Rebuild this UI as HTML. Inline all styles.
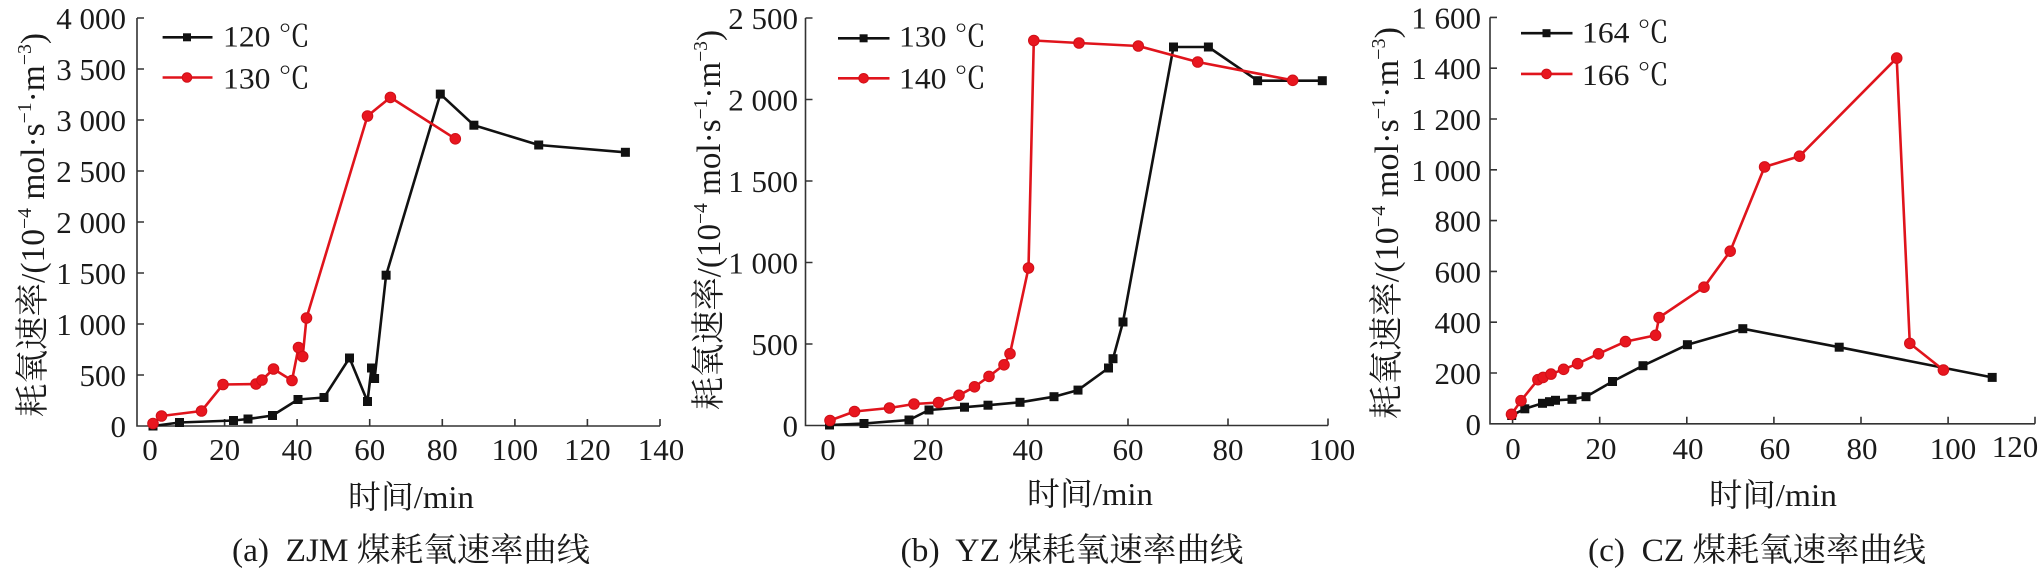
<!DOCTYPE html>
<html><head><meta charset="utf-8">
<style>
html,body{margin:0;padding:0;background:#fff;}
svg{display:block;}
text{font-family:"Liberation Serif","Noto Serif CJK SC",serif;fill:#1a1a1a;}
.ax{stroke:#333;stroke-width:1.6;fill:none;}
.bl{stroke:#111;stroke-width:2.6;fill:none;stroke-linejoin:round;}
.rd{stroke:#e0141c;stroke-width:2.6;fill:none;stroke-linejoin:round;}
.sq{fill:#111;}
.ci{fill:#e8161f;stroke:#d01018;stroke-width:1;}
.tk{font-size:31px;}
</style></head>
<body>
<svg width="2041" height="579" viewBox="0 0 2041 579" xmlns="http://www.w3.org/2000/svg">
<rect width="2041" height="579" fill="#fff"/>

<!-- ================= Panel (a) ================= -->
<g>
<path class="ax" d="M137,18 V426 H660"/>
<path class="ax" d="M137,18 h7 M137,69 h7 M137,120 h7 M137,171 h7 M137,222 h7 M137,273 h7 M137,324 h7 M137,375 h7"/>
<path class="ax" d="M152,426 v-7 M224.6,426 v-7 M297.1,426 v-7 M369.7,426 v-7 M442.3,426 v-7 M514.9,426 v-7 M587.4,426 v-7 M660,426 v-7"/>
<g class="tk" text-anchor="end">
<text x="126" y="29">4 000</text>
<text x="126" y="80">3 500</text>
<text x="126" y="131">3 000</text>
<text x="126" y="182">2 500</text>
<text x="126" y="233">2 000</text>
<text x="126" y="284">1 500</text>
<text x="126" y="335">1 000</text>
<text x="126" y="386">500</text>
<text x="126" y="437">0</text>
</g>
<g class="tk" text-anchor="middle">
<text x="150" y="460">0</text>
<text x="224.6" y="460">20</text>
<text x="297.1" y="460">40</text>
<text x="369.7" y="460">60</text>
<text x="442.3" y="460">80</text>
<text x="514.9" y="460">100</text>
<text x="587.4" y="460">120</text>
<text x="661" y="460">140</text>
</g>
<text x="411" y="508" text-anchor="middle" font-size="32" textLength="126" lengthAdjust="spacingAndGlyphs">时间/min</text>
<text transform="translate(44,225) rotate(-90)" text-anchor="middle" font-size="34" textLength="384" lengthAdjust="spacingAndGlyphs">耗氧速率/(10<tspan dy="-13" font-size="20">−4</tspan><tspan dy="13"> mol·s</tspan><tspan dy="-13" font-size="20">−1</tspan><tspan dy="13">·m</tspan><tspan dy="-13" font-size="20">−3</tspan><tspan dy="13">)</tspan></text>
<text x="411" y="561" text-anchor="middle" font-size="33" textLength="358" lengthAdjust="spacingAndGlyphs" style="white-space:pre">(a)  ZJM 煤耗氧速率曲线</text>

<!-- legend -->
<path class="bl" d="M162.6,37.3 H212.5"/>
<rect class="sq" x="183" y="33.3" width="8" height="8"/>
<text x="223" y="46.5" font-size="30" textLength="87" lengthAdjust="spacingAndGlyphs">120 ℃</text>
<path class="rd" d="M162.6,77.5 H212.5"/>
<circle class="ci" cx="187" cy="77.5" r="4.8"/>
<text x="223" y="88.5" font-size="30" textLength="87" lengthAdjust="spacingAndGlyphs">130 ℃</text>

<!-- black 120 -->
<polyline class="bl" points="153,426 179.5,422.5 233.5,420.5 248,419 272.5,415.5 298,399.5 324,397.5 349.5,358 367.5,401.5 371.5,368 374.6,378.5 386.1,275.2 440.3,94.1 473.9,125.2 538.7,145.0 625.4,152.3"/>
<g class="sq">
<rect x="148.5" y="421.5" width="9" height="9"/>
<rect x="175" y="418" width="9" height="9"/>
<rect x="229" y="416" width="9" height="9"/>
<rect x="243.5" y="414.5" width="9" height="9"/>
<rect x="268" y="411" width="9" height="9"/>
<rect x="293.5" y="395" width="9" height="9"/>
<rect x="319.5" y="393" width="9" height="9"/>
<rect x="345" y="353.5" width="9" height="9"/>
<rect x="363" y="397" width="9" height="9"/>
<rect x="367" y="363.5" width="9" height="9"/>
<rect x="370.1" y="374" width="9" height="9"/>
<rect x="381.6" y="270.7" width="9" height="9"/>
<rect x="435.8" y="89.6" width="9" height="9"/>
<rect x="469.4" y="120.7" width="9" height="9"/>
<rect x="534.2" y="140.5" width="9" height="9"/>
<rect x="620.9" y="147.8" width="9" height="9"/>
</g>
<!-- red 130 -->
<polyline class="rd" points="153,423.5 161.5,416 201.5,411 223,384.5 256,384 262,380 273.5,369 292,380.5 298.5,347.5 302.7,356.5 306.5,318 367.5,116.0 390.4,97.4 455.3,138.8"/>
<g class="ci">
<circle cx="153" cy="423.5" r="5.3"/>
<circle cx="161.5" cy="416" r="5.3"/>
<circle cx="201.5" cy="411" r="5.3"/>
<circle cx="223" cy="384.5" r="5.3"/>
<circle cx="256" cy="384" r="5.3"/>
<circle cx="262" cy="380" r="5.3"/>
<circle cx="273.5" cy="369" r="5.3"/>
<circle cx="292" cy="380.5" r="5.3"/>
<circle cx="298.5" cy="347.5" r="5.3"/>
<circle cx="302.7" cy="356.5" r="5.3"/>
<circle cx="306.5" cy="318" r="5.3"/>
<circle cx="367.5" cy="116" r="5.3"/>
<circle cx="390.4" cy="97.4" r="5.3"/>
<circle cx="455.3" cy="138.8" r="5.3"/>
</g>
</g>

<!-- ================= Panel (b) ================= -->
<g>
<path class="ax" d="M805.5,18 V425.5 H1328"/>
<path class="ax" d="M805.5,18 h7 M805.5,99.5 h7 M805.5,181 h7 M805.5,262.5 h7 M805.5,344 h7"/>
<path class="ax" d="M828,425.5 v-7 M928,425.5 v-7 M1028,425.5 v-7 M1128,425.5 v-7 M1228,425.5 v-7 M1328,425.5 v-7"/>
<g class="tk" text-anchor="end">
<text x="798" y="29">2 500</text>
<text x="798" y="110.5">2 000</text>
<text x="798" y="192">1 500</text>
<text x="798" y="273.5">1 000</text>
<text x="798" y="355">500</text>
<text x="798" y="436.5">0</text>
</g>
<g class="tk" text-anchor="middle">
<text x="828" y="460">0</text>
<text x="928" y="460">20</text>
<text x="1028" y="460">40</text>
<text x="1128" y="460">60</text>
<text x="1228" y="460">80</text>
<text x="1332" y="460">100</text>
</g>
<text x="1090" y="505" text-anchor="middle" font-size="32" textLength="126" lengthAdjust="spacingAndGlyphs">时间/min</text>
<text transform="translate(720,220) rotate(-90)" text-anchor="middle" font-size="34" textLength="380" lengthAdjust="spacingAndGlyphs">耗氧速率/(10<tspan dy="-13" font-size="20">−4</tspan><tspan dy="13"> mol·s</tspan><tspan dy="-13" font-size="20">−1</tspan><tspan dy="13">·m</tspan><tspan dy="-13" font-size="20">−3</tspan><tspan dy="13">)</tspan></text>
<text x="1072" y="561" text-anchor="middle" font-size="33" textLength="343" lengthAdjust="spacingAndGlyphs" style="white-space:pre">(b)  YZ 煤耗氧速率曲线</text>

<path class="bl" d="M838,38.3 H889.5"/>
<rect class="sq" x="859.6" y="34.3" width="8" height="8"/>
<text x="899" y="46.7" font-size="30" textLength="87" lengthAdjust="spacingAndGlyphs">130 ℃</text>
<path class="rd" d="M838,78.3 H889.5"/>
<circle class="ci" cx="863.6" cy="78.3" r="4.8"/>
<text x="899" y="88.3" font-size="30" textLength="87" lengthAdjust="spacingAndGlyphs">140 ℃</text>

<polyline class="bl" points="829.5,425 864,423.5 909,420 929,410 964.5,407.2 988,405.2 1020,402.3 1054,396.7 1078,390.1 1108.5,368.0 1113,358.7 1123,322.0 1173.5,47 1208.4,47 1257.6,80.7 1322.3,80.7"/>
<g class="sq">
<rect x="825" y="420.5" width="9" height="9"/>
<rect x="859.5" y="419" width="9" height="9"/>
<rect x="904.5" y="415.5" width="9" height="9"/>
<rect x="924.5" y="405.5" width="9" height="9"/>
<rect x="960" y="402.7" width="9" height="9"/>
<rect x="983.5" y="400.7" width="9" height="9"/>
<rect x="1015.5" y="397.8" width="9" height="9"/>
<rect x="1049.5" y="392.2" width="9" height="9"/>
<rect x="1073.5" y="385.6" width="9" height="9"/>
<rect x="1104" y="363.5" width="9" height="9"/>
<rect x="1108.5" y="354.2" width="9" height="9"/>
<rect x="1118.5" y="317.5" width="9" height="9"/>
<rect x="1169" y="42.5" width="9" height="9"/>
<rect x="1203.9" y="42.5" width="9" height="9"/>
<rect x="1253.1" y="76.2" width="9" height="9"/>
<rect x="1317.8" y="76.2" width="9" height="9"/>
</g>
<polyline class="rd" points="830,420.5 854.5,411.5 889.5,408 914,404 938.5,402.5 959,395.3 974.5,386.8 989,376.4 1004,364.8 1010,353.7 1028.5,268.0 1033.8,40.5 1079,43 1138.3,46 1197.7,62 1292.7,80.3"/>
<g class="ci">
<circle cx="830" cy="420.5" r="5.3"/>
<circle cx="854.5" cy="411.5" r="5.3"/>
<circle cx="889.5" cy="408" r="5.3"/>
<circle cx="914" cy="404" r="5.3"/>
<circle cx="938.5" cy="402.5" r="5.3"/>
<circle cx="959" cy="395.3" r="5.3"/>
<circle cx="974.5" cy="386.8" r="5.3"/>
<circle cx="989" cy="376.4" r="5.3"/>
<circle cx="1004" cy="364.8" r="5.3"/>
<circle cx="1010" cy="353.7" r="5.3"/>
<circle cx="1028.5" cy="268" r="5.3"/>
<circle cx="1033.8" cy="40.5" r="5.3"/>
<circle cx="1079" cy="43" r="5.3"/>
<circle cx="1138.3" cy="46" r="5.3"/>
<circle cx="1197.7" cy="62" r="5.3"/>
<circle cx="1292.7" cy="80.3" r="5.3"/>
</g>
</g>

<!-- ================= Panel (c) ================= -->
<g>
<path class="ax" d="M1490,17.4 V423.8 H2035"/>
<path class="ax" d="M1490,17.4 h7 M1490,68.2 h7 M1490,119 h7 M1490,169.8 h7 M1490,220.6 h7 M1490,271.4 h7 M1490,322.2 h7 M1490,373 h7"/>
<path class="ax" d="M1512.6,423.8 v-7 M1599.7,423.8 v-7 M1686.8,423.8 v-7 M1773.9,423.8 v-7 M1861,423.8 v-7 M1948.1,423.8 v-7 M2035,423.8 v-7"/>
<g class="tk" text-anchor="end">
<text x="1481" y="28.4">1 600</text>
<text x="1481" y="79.2">1 400</text>
<text x="1481" y="130">1 200</text>
<text x="1481" y="180.8">1 000</text>
<text x="1481" y="231.6">800</text>
<text x="1481" y="282.4">600</text>
<text x="1481" y="333.2">400</text>
<text x="1481" y="384">200</text>
<text x="1481" y="434.8">0</text>
</g>
<g class="tk" text-anchor="middle">
<text x="1513" y="459">0</text>
<text x="1601" y="459">20</text>
<text x="1688" y="459">40</text>
<text x="1775" y="459">60</text>
<text x="1862" y="459">80</text>
<text x="1953" y="459">100</text>
<text x="2015" y="457">120</text>
</g>
<text x="1773" y="506" text-anchor="middle" font-size="32" textLength="128" lengthAdjust="spacingAndGlyphs">时间/min</text>
<text transform="translate(1398,223) rotate(-90)" text-anchor="middle" font-size="34" textLength="392" lengthAdjust="spacingAndGlyphs">耗氧速率/(10<tspan dy="-13" font-size="20">−4</tspan><tspan dy="13"> mol·s</tspan><tspan dy="-13" font-size="20">−1</tspan><tspan dy="13">·m</tspan><tspan dy="-13" font-size="20">−3</tspan><tspan dy="13">)</tspan></text>
<text x="1757" y="561" text-anchor="middle" font-size="33" textLength="338" lengthAdjust="spacingAndGlyphs" style="white-space:pre">(c)  CZ 煤耗氧速率曲线</text>

<path class="bl" d="M1521,33.2 H1572.5"/>
<rect class="sq" x="1542.5" y="29.2" width="8" height="8"/>
<text x="1582" y="42.5" font-size="30" textLength="87" lengthAdjust="spacingAndGlyphs">164 ℃</text>
<path class="rd" d="M1521,73.9 H1572.5"/>
<circle class="ci" cx="1546.5" cy="73.9" r="4.8"/>
<text x="1582" y="85" font-size="30" textLength="87" lengthAdjust="spacingAndGlyphs">166 ℃</text>

<polyline class="bl" points="1511.7,415.5 1524.8,408.8 1542.5,403.3 1549.5,401.7 1555.5,400.3 1572,399.3 1586,396.7 1612.5,381.5 1643.0,365.7 1687.4,344.7 1742.8,328.7 1839.2,347.2 1992.2,377.4"/>
<g class="sq">
<rect x="1507.2" y="411" width="9" height="9"/>
<rect x="1520.3" y="404.3" width="9" height="9"/>
<rect x="1538" y="398.8" width="9" height="9"/>
<rect x="1545" y="397.2" width="9" height="9"/>
<rect x="1551" y="395.8" width="9" height="9"/>
<rect x="1567.5" y="394.8" width="9" height="9"/>
<rect x="1581.5" y="392.2" width="9" height="9"/>
<rect x="1608" y="377" width="9" height="9"/>
<rect x="1638.5" y="361.2" width="9" height="9"/>
<rect x="1682.9" y="340.2" width="9" height="9"/>
<rect x="1738.3" y="324.2" width="9" height="9"/>
<rect x="1834.7" y="342.7" width="9" height="9"/>
<rect x="1987.7" y="372.9" width="9" height="9"/>
</g>
<polyline class="rd" points="1511.5,414.3 1521,400.7 1537.9,379.7 1543.1,377.4 1551.0,374.1 1563.6,369.3 1577.6,363.7 1598.5,353.8 1625.5,341.6 1655.6,335.3 1659.1,317.5 1704.0,287.2 1730.2,251.2 1764.6,166.9 1799.5,156.2 1896.7,58.1 1909.8,343.4 1943.4,370.0"/>
<g class="ci">
<circle cx="1511.5" cy="414.3" r="5.3"/>
<circle cx="1521" cy="400.7" r="5.3"/>
<circle cx="1537.9" cy="379.7" r="5.3"/>
<circle cx="1543.1" cy="377.4" r="5.3"/>
<circle cx="1551" cy="374.1" r="5.3"/>
<circle cx="1563.6" cy="369.3" r="5.3"/>
<circle cx="1577.6" cy="363.7" r="5.3"/>
<circle cx="1598.5" cy="353.8" r="5.3"/>
<circle cx="1625.5" cy="341.6" r="5.3"/>
<circle cx="1655.6" cy="335.3" r="5.3"/>
<circle cx="1659.1" cy="317.5" r="5.3"/>
<circle cx="1704" cy="287.2" r="5.3"/>
<circle cx="1730.2" cy="251.2" r="5.3"/>
<circle cx="1764.6" cy="166.9" r="5.3"/>
<circle cx="1799.5" cy="156.2" r="5.3"/>
<circle cx="1896.7" cy="58.1" r="5.3"/>
<circle cx="1909.8" cy="343.4" r="5.3"/>
<circle cx="1943.4" cy="370" r="5.3"/>
</g>
</g>
</svg>
</body></html>
